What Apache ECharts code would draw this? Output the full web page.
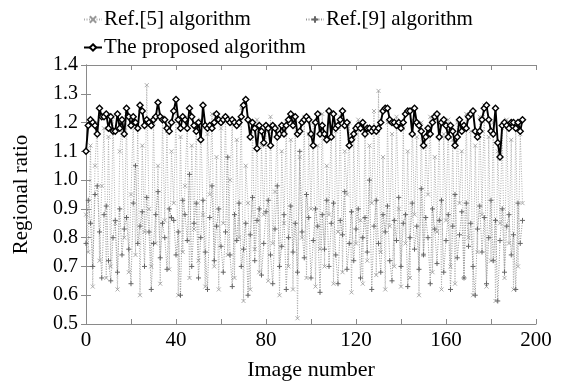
<!DOCTYPE html>
<html><head><meta charset="utf-8">
<script src="https://cdn.jsdelivr.net/npm/echarts@6/dist/echarts.min.js"></script>
<style>html,body{margin:0;padding:0;background:#fff}#c{width:563px;height:382px}</style>
</head><body><div id="c"></div>
<script>
const xTicks = [0, 40, 80, 120, 160, 200];
const yTicks = [0.5, 0.6, 0.7, 0.8, 0.9, 1.0, 1.1, 1.2, 1.3, 1.4];
const seriesNames = ['Ref.[5] algorithm', 'Ref.[9] algorithm', 'The proposed algorithm'];

const ref5 = [
0.88,0.75,1.12,0.63,1.05,1.20,0.72,0.98,1.18,0.66,
1.15,0.70,1.22,0.85,0.62,1.10,1.19,0.80,1.23,0.68,
0.95,1.21,0.74,1.18,0.60,1.12,0.82,1.33,0.90,0.70,
1.20,0.78,1.05,0.64,1.22,0.86,1.17,0.69,1.10,0.92,
1.24,0.60,1.15,0.75,0.98,1.20,0.66,1.12,0.83,1.19,
0.72,1.21,0.88,0.63,1.16,0.95,1.23,0.70,1.08,0.62,
1.18,0.85,1.22,0.74,1.00,1.20,0.66,1.14,0.80,1.25,
0.58,1.05,0.92,0.62,1.19,0.76,1.21,0.68,1.12,0.88,
1.17,0.65,1.22,0.78,0.96,1.18,0.60,1.10,0.85,1.20,
0.70,1.14,0.62,1.21,0.52,1.08,0.80,1.22,0.66,1.16,
0.90,1.20,0.63,1.12,0.76,1.23,0.70,1.05,0.88,1.19,
0.64,1.17,0.82,1.22,0.68,1.10,0.95,1.20,0.61,1.15,
0.78,1.21,0.86,0.64,1.18,0.72,1.12,0.92,1.24,0.67,
1.31,0.75,1.08,0.62,1.20,0.84,1.16,0.70,1.22,0.90,
0.63,1.18,0.78,1.10,0.66,1.21,0.88,1.15,0.60,1.20,
0.74,1.12,0.95,1.22,0.68,1.08,0.82,1.19,0.62,1.16,
0.86,1.21,0.70,1.14,0.64,1.20,0.92,1.10,0.66,1.23,
0.80,1.17,0.60,1.12,0.75,1.22,0.88,1.26,0.63,1.15,
0.72,1.20,0.58,1.10,0.85,1.18,0.66,1.21,0.78,1.14,
0.62,1.19,0.70,1.16,0.92
];
const ref9 = [
0.78,0.93,0.85,0.70,0.95,0.98,0.82,0.66,0.88,0.91,
0.72,0.65,0.80,0.86,0.68,0.90,0.74,0.83,0.87,0.76,
0.64,0.92,1.05,0.78,0.84,0.89,0.70,0.94,0.82,0.62,
0.78,0.88,0.96,0.73,0.85,0.80,0.69,0.90,0.87,0.86,
0.74,0.82,0.60,0.93,0.88,0.79,1.02,0.70,0.85,0.92,
0.66,0.80,0.93,0.75,0.62,0.87,0.98,0.72,0.84,0.90,
0.77,0.68,0.82,1.08,0.74,0.63,0.88,0.79,0.92,0.70,
0.76,0.85,0.60,0.81,0.94,0.72,0.86,0.90,0.67,0.78,
0.89,0.93,0.74,0.64,0.83,0.98,0.70,0.77,0.88,0.62,
0.80,0.91,0.75,0.85,0.68,1.10,0.82,0.73,0.95,0.87,
0.66,0.79,0.90,0.84,0.61,0.88,0.76,0.93,0.70,0.85,
0.92,0.74,0.64,0.86,0.81,0.96,0.69,0.78,0.89,0.72,
0.83,0.90,0.66,0.80,0.87,0.75,1.00,0.62,0.84,0.93,
0.78,0.68,0.88,0.82,0.91,0.72,0.65,0.86,0.79,0.94,
0.70,0.85,0.88,0.63,0.80,0.92,0.76,0.84,0.69,0.97,
0.74,0.87,0.80,0.64,0.90,0.83,0.71,0.86,0.93,0.68,
0.79,0.88,0.62,0.84,0.95,0.73,0.81,0.89,0.66,0.92,
0.77,0.85,0.70,0.60,0.83,0.91,0.75,0.87,0.64,0.80,
0.93,0.72,0.86,0.58,0.79,0.90,0.68,0.84,0.88,0.74,
0.81,0.62,0.92,0.78,0.86
];
const proposed = [
1.10,1.19,1.21,1.20,1.19,1.16,1.25,1.22,1.22,1.23,
1.18,1.22,1.17,1.17,1.23,1.18,1.21,1.16,1.25,1.22,
1.19,1.22,1.20,1.18,1.26,1.24,1.19,1.21,1.20,1.19,
1.21,1.22,1.27,1.22,1.21,1.21,1.18,1.17,1.20,1.24,
1.28,1.21,1.18,1.22,1.21,1.18,1.25,1.22,1.19,1.17,
1.20,1.14,1.26,1.19,1.18,1.19,1.18,1.20,1.23,1.21,
1.20,1.21,1.22,1.21,1.20,1.21,1.20,1.19,1.20,1.22,
1.26,1.28,1.21,1.15,1.20,1.18,1.11,1.19,1.17,1.13,
1.19,1.18,1.12,1.19,1.18,1.15,1.16,1.19,1.16,1.19,
1.21,1.23,1.19,1.22,1.16,1.17,1.20,1.21,1.22,1.21,
1.16,1.12,1.20,1.23,1.16,1.19,1.16,1.14,1.24,1.15,
1.23,1.18,1.19,1.21,1.24,1.19,1.20,1.12,1.14,1.16,
1.18,1.19,1.18,1.20,1.16,1.18,1.18,1.17,1.18,1.17,
1.18,1.20,1.24,1.25,1.25,1.21,1.20,1.20,1.19,1.20,
1.18,1.20,1.23,1.24,1.24,1.16,1.25,1.20,1.19,1.17,
1.12,1.15,1.18,1.16,1.20,1.22,1.23,1.15,1.20,1.21,
1.19,1.15,1.19,1.17,1.12,1.15,1.21,1.17,1.19,1.18,
1.22,1.23,1.24,1.17,1.15,1.17,1.21,1.25,1.26,1.21,
1.17,1.16,1.25,1.13,1.08,1.19,1.20,1.19,1.18,1.20,
1.20,1.18,1.20,1.17,1.21
];

const toPts = arr => arr.map((v, i) => [i, v]);
const FONT = '"Liberation Serif","Times New Roman",serif';
const plusPath = 'path://M0,5L10,5M5,0L5,10';
const crossPath = 'path://M0,0L10,10M10,0L0,10';

const chart = echarts.init(document.getElementById('c'), null, {renderer: 'canvas'});
const legendBase = {
  orient: 'horizontal', itemWidth: 18, itemHeight: 8, itemGap: 4, padding: 0,
  textStyle: {fontFamily: FONT, fontSize: 21, color: '#000', padding: [0, 0, 0, -3]}
};
chart.setOption({
  animation: false,
  backgroundColor: '#fff',
  legend: [
    Object.assign({}, legendBase, {data: [seriesNames[0]], left: 83, top: 9}),
    Object.assign({}, legendBase, {data: [seriesNames[1]], left: 305, top: 9}),
    Object.assign({}, legendBase, {data: [seriesNames[2]], left: 83, top: 37})
  ],
  grid: {left: 86, right: 27, top: 65, bottom: 58, containLabel: false, outerBoundsMode: 'none'},
  xAxis: [{
    type: 'value', min: 0, max: 200, interval: 20,
    name: 'Image number', nameLocation: 'middle', nameGap: 35,
    nameTextStyle: {fontFamily: FONT, fontSize: 22, color: '#000'},
    axisLine: {show: true, lineStyle: {color: '#8a8a8a', width: 1}},
    axisTick: {show: true, inside: true, length: 5, lineStyle: {color: '#8a8a8a'}},
    axisLabel: {fontFamily: FONT, fontSize: 21, color: '#000', margin: 6,
      formatter: v => (xTicks.indexOf(v) >= 0 ? String(v) : '')},
    splitLine: {show: false}
  }, {
    type: 'value', min: 0, max: 200, interval: 20, position: 'top',
    axisLine: {show: true, lineStyle: {color: '#8a8a8a', width: 1}},
    axisTick: {show: true, inside: true, length: 5, lineStyle: {color: '#8a8a8a'}},
    axisLabel: {show: false}, splitLine: {show: false}
  }],
  yAxis: [{
    type: 'value', min: 0.5, max: 1.4, interval: 0.1,
    name: 'Regional ratio', nameLocation: 'middle', nameGap: 54, nameRotate: 90,
    nameTextStyle: {fontFamily: FONT, fontSize: 21, color: '#000'},
    axisLine: {show: true, lineStyle: {color: '#8a8a8a', width: 1}},
    axisTick: {show: true, inside: true, length: 5, lineStyle: {color: '#8a8a8a'}},
    axisLabel: {fontFamily: FONT, fontSize: 20, color: '#000', margin: 8,
      formatter: v => {
        const r = Math.round(v * 10) / 10;
        return yTicks.some(t => Math.abs(t - r) < 1e-6) ? r.toFixed(1) : '';
      }},
    splitLine: {show: false}
  }, {
    type: 'value', min: 0.5, max: 1.4, interval: 0.1, position: 'right',
    axisLine: {show: true, lineStyle: {color: '#8a8a8a', width: 1}},
    axisTick: {show: true, inside: true, length: 5, lineStyle: {color: '#8a8a8a'}},
    axisLabel: {show: false}, splitLine: {show: false}
  }],
  series: [{
    name: seriesNames[0], type: 'line', data: toPts(ref5),
    symbol: crossPath, symbolSize: 4, showSymbol: true,
    lineStyle: {color: '#adadad', width: 1, type: [1, 1.5]},
    itemStyle: {color: 'rgba(0,0,0,0)', borderColor: '#999', borderWidth: 0.8},
    z: 2
  }, {
    name: seriesNames[1], type: 'line', data: toPts(ref9),
    symbol: plusPath, symbolSize: 5, showSymbol: true,
    lineStyle: {color: '#959595', width: 1, type: [1, 1.5]},
    itemStyle: {color: 'rgba(0,0,0,0)', borderColor: '#666', borderWidth: 1},
    z: 3
  }, {
    name: seriesNames[2], type: 'line', data: toPts(proposed),
    symbol: 'diamond', symbolSize: 6, showSymbol: true,
    lineStyle: {color: '#000', width: 1.9},
    itemStyle: {color: '#fff', borderColor: '#000', borderWidth: 1.4},
    z: 5
  }]
});
</script></body></html>
